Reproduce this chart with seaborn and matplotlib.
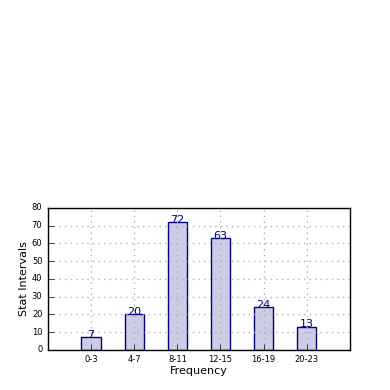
import matplotlib
matplotlib.use("Agg")
import matplotlib.pyplot as plt
import seaborn as sns
import pandas as pd

# Data
intervals = ["0-3", "4-7", "8-11", "12-15", "16-19", "20-23"]
counts = [7, 20, 72, 63, 24, 13]

plt.style.use("classic")
plt.rcParams["font.family"] = ["DejaVu Sans"]

df = pd.DataFrame({"interval": intervals, "count": counts})

fig = plt.figure(figsize=(3.9, 3.9), dpi=100)
fig.patch.set_facecolor("white")
ax = fig.add_axes([0.123, 0.103, 0.774, 0.364])

sns.barplot(data=df, x="interval", y="count", ax=ax, width=0.45,
            color="#cccce6", edgecolor="#000080", linewidth=1, saturation=1)

for i, v in enumerate(counts):
    ax.text(i, v - 1.5, str(v), ha="center", va="bottom", color="#000080", fontsize=8)

ax.set_xlim(-1, 6)
ax.set_ylim(0, 80)
ax.set_yticks(range(0, 81, 10))
ax.grid(True, linestyle=":", color="#b0b0b0", linewidth=1)
for sp in ax.spines.values():
    sp.set_zorder(5)
ax.tick_params(axis="both", labelsize=6, direction="in")
ax.tick_params(top=False, right=False)
ax.set_xlabel("Frequency", fontsize=8, labelpad=1)
ax.set_ylabel("Stat Intervals", fontsize=8, labelpad=2)

fig.savefig("out.png", dpi=100, facecolor="white")
